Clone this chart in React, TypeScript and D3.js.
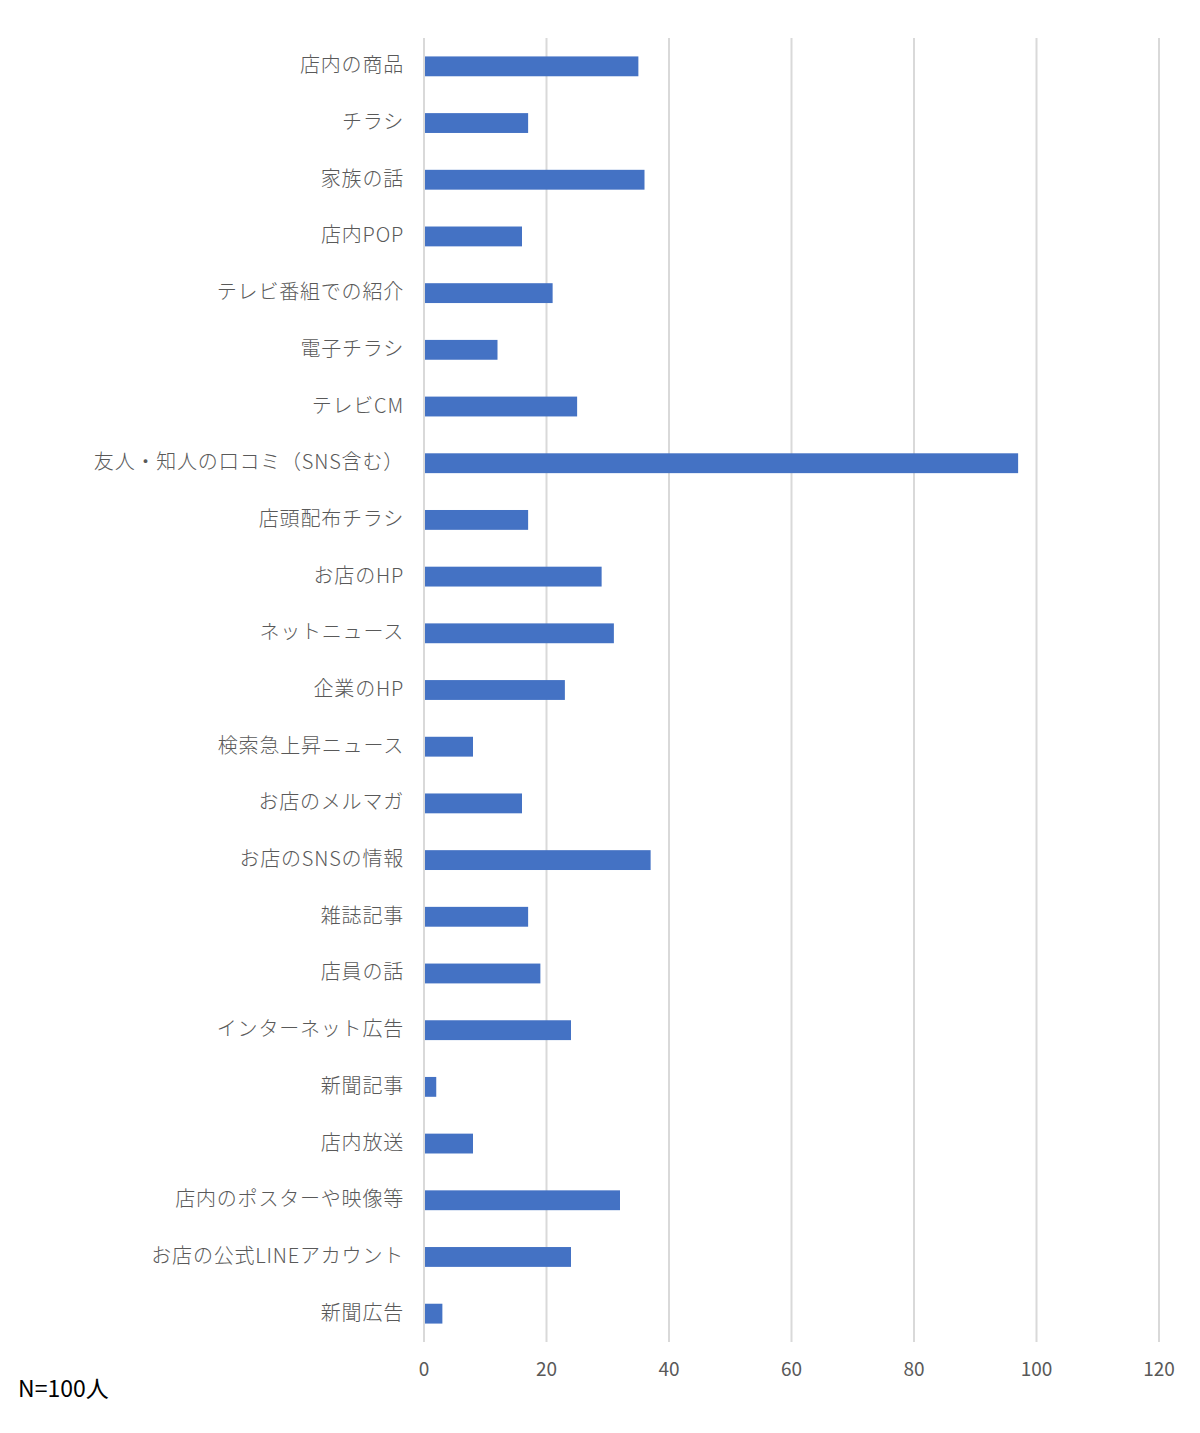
import React, { useEffect, useRef } from 'react';
import * as d3 from 'd3';

const categories = [
    '店内の商品', 'チラシ', '家族の話', '店内POP', 'テレビ番組での紹介', '電子チラシ',
    'テレビCM', '友人・知人の口コミ（SNS含む）', '店頭配布チラシ', 'お店のHP', 'ネットニュース',
    '企業のHP', '検索急上昇ニュース', 'お店のメルマガ', 'お店のSNSの情報', '雑誌記事',
    '店員の話', 'インターネット広告', '新聞記事', '店内放送', '店内のポスターや映像等',
    'お店の公式LINEアカウント', '新聞広告',
];
const values = [35, 17, 36, 16, 21, 12, 25, 97, 17, 29, 31, 23, 8, 16, 37, 17, 19, 24, 2, 8, 32, 24, 3];
const xTicks = [0, 20, 40, 60, 80, 100, 120];
const note = 'N=100人';

const App: React.FC = () => {
    const svgRef = useRef<SVGSVGElement | null>(null);

    useEffect(() => {
        const width = 1200;
        const height = 1433;
        const margin = { top: 38, right: 41, bottom: 91, left: 424 };
        const font = '"Noto Sans CJK JP", "Noto Sans", sans-serif';

        const svg = d3.select(svgRef.current)
            .attr('width', width)
            .attr('height', height);

        svg.selectAll('*').remove();

        const xScale = d3.scaleLinear()
            .domain([0, 120])
            .range([margin.left, width - margin.right]);

        const yScale = d3.scaleBand<string>()
            .domain(categories)
            .range([margin.top, height - margin.bottom])
            .paddingInner(0.65)
            .paddingOuter(0.325);

        // gridlines
        svg.append('g')
            .selectAll('line')
            .data(xTicks)
            .join('line')
            .attr('x1', d => xScale(d))
            .attr('x2', d => xScale(d))
            .attr('y1', margin.top)
            .attr('y2', height - margin.bottom)
            .attr('stroke', '#d9d9d9')
            .attr('stroke-width', 2);

        // x tick labels
        svg.append('g')
            .selectAll('text')
            .data(xTicks)
            .join('text')
            .attr('x', d => xScale(d))
            .attr('y', height - margin.bottom + 34)
            .attr('text-anchor', 'middle')
            .attr('font-family', font)
            .attr('font-size', 19)
            .attr('fill', '#595959')
            .text(d => d);

        // bars
        svg.append('g')
            .selectAll('rect')
            .data(values)
            .join('rect')
            .attr('x', xScale(0) + 1)
            .attr('y', (_, i) => yScale(categories[i]) as number)
            .attr('width', d => xScale(d) - xScale(0) - 1)
            .attr('height', yScale.bandwidth())
            .attr('fill', '#4472c4');

        // category labels
        svg.append('g')
            .selectAll('text')
            .data(categories)
            .join('text')
            .attr('x', margin.left - 20)
            .attr('y', d => (yScale(d) as number) + yScale.bandwidth() / 2)
            .attr('dy', '0.3em')
            .attr('text-anchor', 'end')
            .attr('font-family', font)
            .attr('font-size', 20)
            .attr('font-weight', 300)
            .attr('letter-spacing', 0.8)
            .attr('fill', '#595959')
            .text(d => d);

        svg.append('text')
            .attr('x', 18)
            .attr('y', 1397)
            .attr('font-family', font)
            .attr('font-size', 23)
            .attr('fill', '#000')
            .text(note);
    }, []);

    return <svg ref={svgRef} style={{ position: 'absolute', left: 0, top: 0 }}></svg>;
};

export default App;
